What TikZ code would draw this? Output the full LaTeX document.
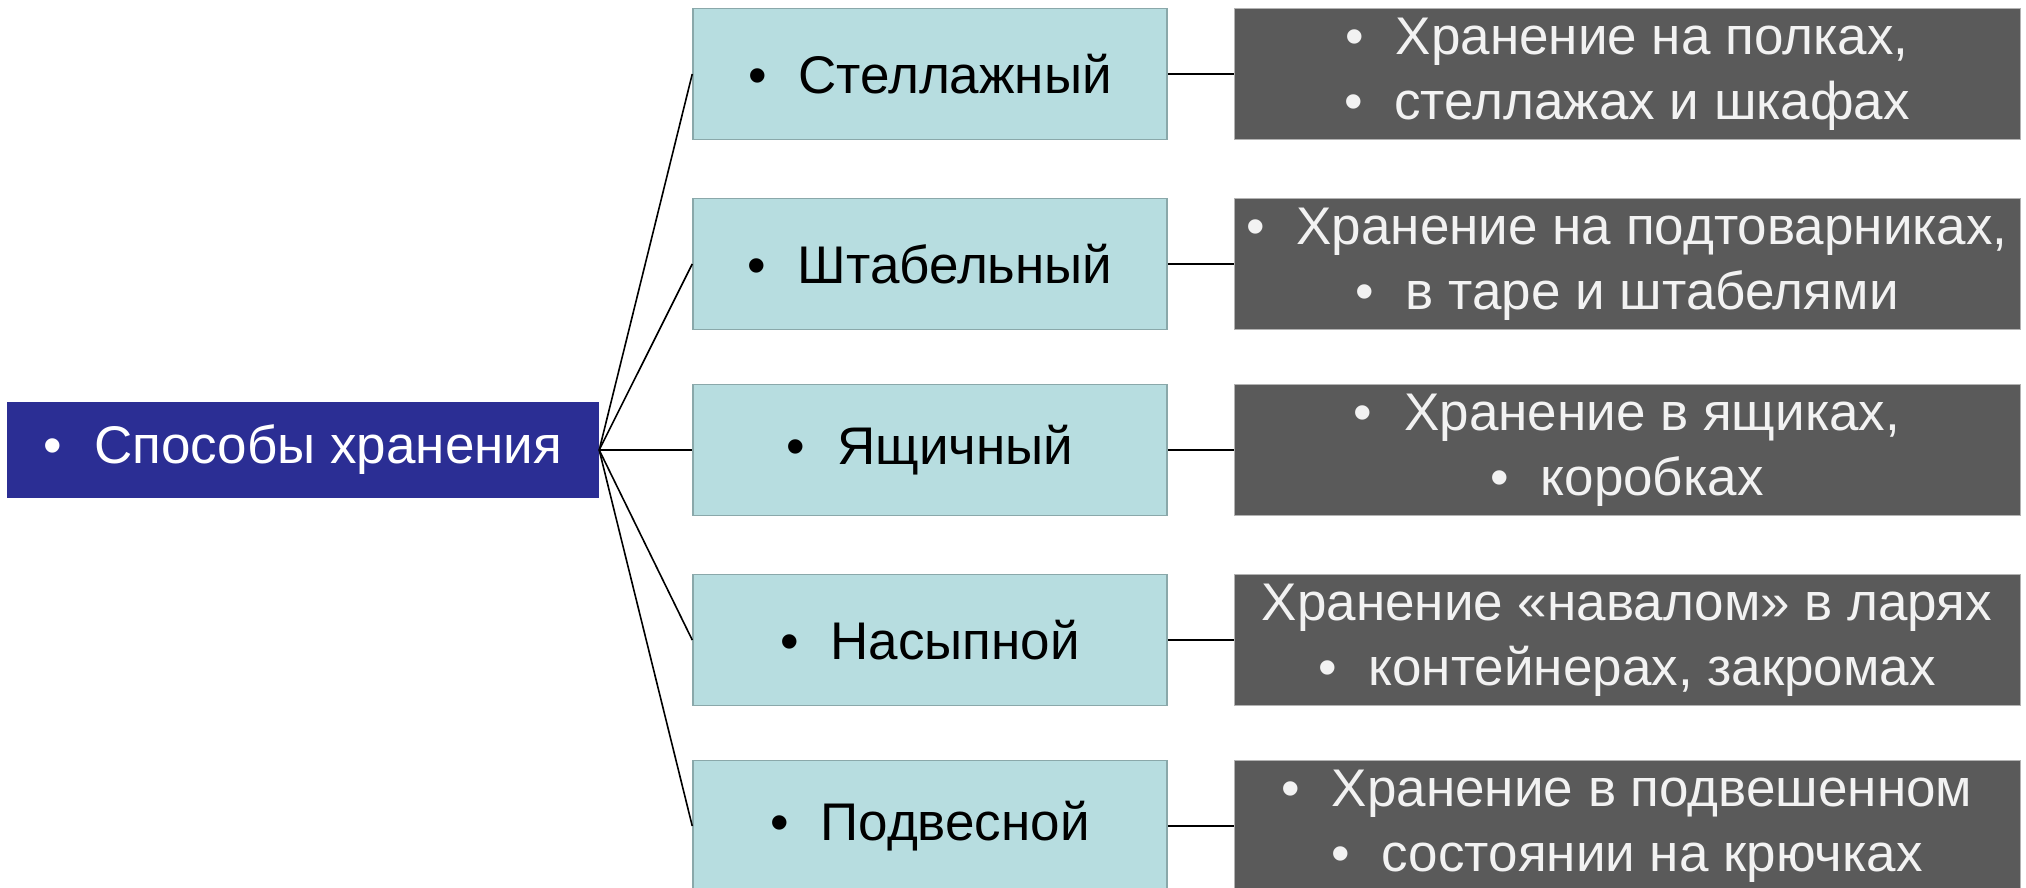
\documentclass[tikz,border=0pt]{standalone}
\usepackage{fontspec}
\setmainfont{Liberation Sans}
\definecolor{rootblue}{RGB}{43,46,148}
\definecolor{kindfill}{RGB}{183,221,224}
\definecolor{kindline}{RGB}{138,168,170}
\definecolor{notefill}{RGB}{90,90,90}
\definecolor{notetext}{RGB}{242,242,242}
\newcommand{\blt}{\textbullet\hspace{0.6em}}
\begin{document}
\begin{tikzpicture}[x=1pt,y=-1pt,
    every node/.style={font=\fontsize{53}{65}\selectfont},
    rootbox/.style={fill=rootblue,text=white,minimum width=592pt,minimum height=96pt,inner sep=0pt},
    kindbox/.style={fill=kindfill,draw=kindline,line width=1.5pt,minimum width=474pt,minimum height=131pt,inner sep=0pt},
    notebox/.style={fill=notefill,draw=gray!60,line width=1pt,text=notetext,align=center,minimum width=786pt,minimum height=131pt,inner sep=0pt},
    link/.style={black,line width=1.6pt}]
    \useasboundingbox (0,0) rectangle (2026,888);

    % 左の見出し
    \node[rootbox] (root) at (303,450) {\blt Способы хранения};

    % 中央の列
    \node[kindbox] (k1) at (930,74) {\blt Стеллажный};
    \node[kindbox] (k2) at (930,264) {\blt Штабельный};
    \node[kindbox] (k3) at (930,450) {\blt Ящичный};
    \node[kindbox] (k4) at (930,640) {\blt Насыпной};
    \node[kindbox] (k5) at (930,826) {\blt Подвесной};

    % 右の説明
    \node[notebox] (n1) at (1627,74) {\blt Хранение на полках,\\\blt стеллажах и шкафах};
    \node[notebox] (n2) at (1627,264) {\blt Хранение на подтоварниках,\\\blt в таре и штабелями};
    \node[notebox] (n3) at (1627,450) {\blt Хранение в ящиках,\\\blt коробках};
    \node[notebox] (n4) at (1627,640) {Хранение «навалом» в ларях\\\blt контейнерах, закромах};
    \node[notebox] (n5) at (1627,826) {\blt Хранение в подвешенном\\\blt состоянии на крючках};

    % 線
    \foreach \i in {1,...,5} {
        \draw[link] (root.east) -- (k\i.west);
        \draw[link] (k\i.east) -- (n\i.west);
    }
\end{tikzpicture}
\end{document}
